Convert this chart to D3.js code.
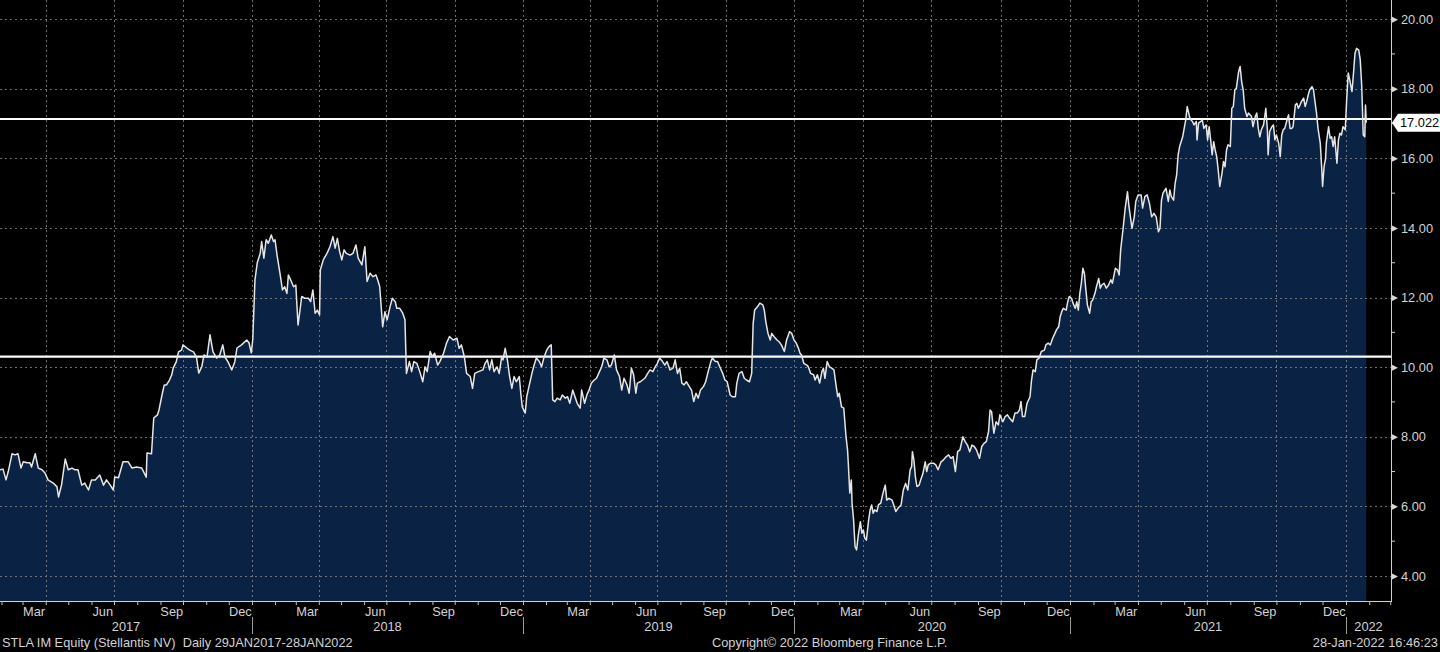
<!DOCTYPE html>
<html><head><meta charset="utf-8">
<script src="https://cdn.jsdelivr.net/npm/d3@7"></script>
<style>
html,body{margin:0;padding:0;background:#000;}
svg{display:block;}
text{font-family:"Liberation Sans",Arial,sans-serif;}
</style></head><body>
<svg id="chart" width="1440" height="652"></svg>
<script>
// ---- DATA ----
const px2017 = [["2017-01-30",7.05],["2017-02-03",7.07],["2017-02-07",6.76],["2017-02-10",7.00],["2017-02-15",7.51],["2017-02-19",7.48],["2017-02-23",7.51],["2017-02-27",7.10],["2017-03-02",7.28],["2017-03-07",7.25],["2017-03-11",7.25],["2017-03-13",7.13],["2017-03-18",7.51],["2017-03-22",7.10],["2017-03-27",7.05],["2017-03-31",6.96],["2017-04-04",6.76],["2017-04-11",6.67],["2017-04-16",6.56],["2017-04-18",6.27],["2017-04-22",6.61],["2017-04-27",7.36],["2017-05-01",7.05],["2017-05-06",7.10],["2017-05-10",7.05],["2017-05-14",7.05],["2017-05-19",6.61],["2017-05-23",6.67],["2017-05-28",6.47],["2017-06-01",6.76],["2017-06-06",6.76],["2017-06-12",6.90],["2017-06-17",6.61],["2017-06-21",6.76],["2017-06-26",6.61],["2017-06-30",6.47],["2017-07-02",6.84],["2017-07-07",6.82],["2017-07-13",7.28],["2017-07-20",7.28],["2017-07-25",7.10],["2017-07-31",7.13],["2017-08-07",7.10],["2017-08-13",6.84],["2017-08-14",7.53],["2017-08-20",7.51],["2017-08-23",8.54],["2017-08-28",8.63],["2017-08-30",8.77],["2017-09-03",9.20],["2017-09-06",9.49],["2017-09-09",9.49],["2017-09-13",9.63],["2017-09-16",9.78],["2017-09-18",9.98],["2017-09-22",10.15],["2017-09-25",10.44],["2017-09-29",10.49],["2017-10-01",10.64],["2017-10-06",10.55],["2017-10-10",10.49],["2017-10-15",10.44],["2017-10-19",10.29],["2017-10-22",9.83],["2017-10-26",10.01],["2017-10-29",10.35],["2017-11-02",10.29],["2017-11-06",10.93],["2017-11-10",10.44],["2017-11-15",10.26],["2017-11-19",10.35],["2017-11-23",10.64],["2017-11-26",10.29],["2017-11-30",10.15],["2017-12-05",9.92],["2017-12-09",10.15],["2017-12-12",10.55],["2017-12-18",10.64],["2017-12-25",10.78],["2017-12-28",10.70],["2017-12-31",10.41]];

const px2018 = [["2018-01-02",10.78],["2018-01-05",12.51],["2018-01-08",12.99],["2018-01-12",13.27],["2018-01-14",13.61],["2018-01-17",13.13],["2018-01-20",13.66],["2018-01-23",13.56],["2018-01-27",13.80],["2018-01-30",13.61],["2018-02-01",13.66],["2018-02-04",13.18],["2018-02-08",12.65],["2018-02-11",12.22],["2018-02-14",12.31],["2018-02-17",12.12],["2018-02-19",12.65],["2018-02-22",12.51],["2018-02-26",12.31],["2018-03-01",12.36],["2018-03-04",11.21],["2018-03-09",12.03],["2018-03-13",11.98],["2018-03-18",11.98],["2018-03-21",11.88],["2018-03-24",12.22],["2018-03-27",11.55],["2018-03-30",11.64],["2018-04-02",11.50],["2018-04-03",12.79],["2018-04-07",13.08],["2018-04-12",13.27],["2018-04-16",13.46],["2018-04-20",13.75],["2018-04-23",13.42],["2018-04-26",13.70],["2018-04-29",13.32],["2018-05-02",13.08],["2018-05-05",13.37],["2018-05-08",13.27],["2018-05-13",13.22],["2018-05-17",13.27],["2018-05-21",13.51],["2018-05-24",13.13],["2018-05-29",12.94],["2018-06-02",13.46],["2018-06-05",12.46],["2018-06-09",12.70],["2018-06-13",12.60],["2018-06-17",12.65],["2018-06-20",12.46],["2018-06-22",12.31],["2018-06-26",11.16],["2018-06-29",11.59],["2018-07-02",11.36],["2018-07-06",11.74],["2018-07-09",11.98],["2018-07-13",11.88],["2018-07-15",11.69],["2018-07-19",11.69],["2018-07-23",11.55],["2018-07-26",11.36],["2018-07-28",9.82],["2018-08-01",10.16],["2018-08-04",9.87],["2018-08-07",10.16],["2018-08-11",10.11],["2018-08-15",9.87],["2018-08-19",9.58],["2018-08-22",10.01],["2018-08-25",9.87],["2018-08-29",10.45],["2018-09-01",10.30],["2018-09-04",10.40],["2018-09-08",10.06],["2018-09-11",10.16],["2018-09-16",10.40],["2018-09-20",10.69],["2018-09-24",10.88],["2018-09-29",10.78],["2018-10-04",10.83],["2018-10-07",10.54],["2018-10-10",10.64],["2018-10-14",10.30],["2018-10-17",9.82],["2018-10-22",9.73],["2018-10-25",9.39],["2018-10-28",9.82],["2018-11-02",9.87],["2018-11-08",9.92],["2018-11-11",10.11],["2018-11-14",10.21],["2018-11-17",9.92],["2018-11-20",10.21],["2018-11-23",9.87],["2018-11-27",10.01],["2018-11-30",9.82],["2018-12-03",10.26],["2018-12-05",10.21],["2018-12-08",10.54],["2018-12-11",10.21],["2018-12-14",9.73],["2018-12-17",9.39],["2018-12-20",9.73],["2018-12-23",9.58],["2018-12-27",9.73],["2018-12-29",9.25],["2018-12-31",8.86]];

const px2019 = [["2019-01-04",8.68],["2019-01-06",9.15],["2019-01-09",9.44],["2019-01-13",9.82],["2019-01-16",10.06],["2019-01-19",10.26],["2019-01-23",10.16],["2019-01-26",10.01],["2019-01-29",10.26],["2019-02-02",10.49],["2019-02-05",10.59],["2019-02-08",10.64],["2019-02-10",9.06],["2019-02-13",9.01],["2019-02-16",9.11],["2019-02-20",9.06],["2019-02-23",9.20],["2019-02-27",9.11],["2019-03-02",9.15],["2019-03-05",8.96],["2019-03-09",9.34],["2019-03-12",9.15],["2019-03-15",8.96],["2019-03-19",8.82],["2019-03-21",9.34],["2019-03-25",8.96],["2019-03-28",9.20],["2019-03-31",9.34],["2019-04-03",9.54],["2019-04-07",9.63],["2019-04-10",9.68],["2019-04-14",9.87],["2019-04-17",10.01],["2019-04-20",10.26],["2019-04-24",10.21],["2019-04-27",10.01],["2019-04-30",10.06],["2019-05-04",10.35],["2019-05-07",9.92],["2019-05-11",9.73],["2019-05-14",9.34],["2019-05-17",9.68],["2019-05-21",9.49],["2019-05-24",9.25],["2019-05-27",9.97],["2019-05-30",9.78],["2019-06-02",9.25],["2019-06-04",9.54],["2019-06-08",9.58],["2019-06-11",9.63],["2019-06-14",9.68],["2019-06-18",9.82],["2019-06-21",9.92],["2019-06-25",9.87],["2019-06-28",10.01],["2019-07-01",10.11],["2019-07-04",10.26],["2019-07-08",10.16],["2019-07-11",10.06],["2019-07-14",10.16],["2019-07-18",9.92],["2019-07-22",9.97],["2019-07-25",10.21],["2019-07-28",9.82],["2019-07-31",9.97],["2019-08-03",9.54],["2019-08-06",9.49],["2019-08-09",9.58],["2019-08-13",9.44],["2019-08-16",9.34],["2019-08-19",9.01],["2019-08-22",9.25],["2019-08-25",9.11],["2019-08-28",9.34],["2019-09-01",9.44],["2019-09-04",9.58],["2019-09-08",9.92],["2019-09-11",10.16],["2019-09-13",10.26],["2019-09-17",10.16],["2019-09-20",10.16],["2019-09-23",10.01],["2019-09-27",9.82],["2019-09-30",9.63],["2019-10-03",9.58],["2019-10-07",9.20],["2019-10-10",9.15],["2019-10-14",9.15],["2019-10-16",9.54],["2019-10-19",9.82],["2019-10-23",9.87],["2019-10-26",9.68],["2019-10-29",9.63],["2019-11-02",9.58],["2019-11-05",9.82],["2019-11-07",11.26],["2019-11-09",11.64],["2019-11-13",11.74],["2019-11-16",11.84],["2019-11-20",11.79],["2019-11-22",11.64],["2019-11-24",11.31],["2019-11-27",10.97],["2019-11-30",10.78],["2019-12-02",10.97],["2019-12-05",10.88],["2019-12-09",10.78],["2019-12-12",10.73],["2019-12-15",10.64],["2019-12-19",10.45],["2019-12-22",10.78],["2019-12-26",11.02],["2019-12-29",10.97]];

const px2020 = [["2020-01-01",10.78],["2020-01-04",10.69],["2020-01-07",10.54],["2020-01-09",10.40],["2020-01-11",10.35],["2020-01-14",10.11],["2020-01-18",10.06],["2020-01-20",10.01],["2020-01-23",9.82],["2020-01-27",9.78],["2020-01-29",9.63],["2020-02-01",9.78],["2020-02-04",9.54],["2020-02-07",9.87],["2020-02-09",9.97],["2020-02-11",9.68],["2020-02-14",10.16],["2020-02-17",10.01],["2020-02-20",9.97],["2020-02-23",9.92],["2020-02-26",9.44],["2020-02-28",9.15],["2020-03-01",9.25],["2020-03-04",8.86],["2020-03-07",8.82],["2020-03-10",8.00],["2020-03-12",7.62],["2020-03-13",7.24],["2020-03-15",6.38],["2020-03-17",6.76],["2020-03-18",6.09],["2020-03-20",5.61],["2020-03-22",4.84],["2020-03-24",4.75],["2020-03-26",5.13],["2020-03-29",5.56],["2020-03-31",5.23],["2020-04-02",5.32],["2020-04-04",5.08],["2020-04-06",5.03],["2020-04-09",5.61],["2020-04-11",5.90],["2020-04-13",6.04],["2020-04-15",5.80],["2020-04-17",5.90],["2020-04-20",5.85],["2020-04-22",6.04],["2020-04-25",6.09],["2020-04-28",6.38],["2020-05-01",6.61],["2020-05-03",6.18],["2020-05-06",6.23],["2020-05-10",6.18],["2020-05-13",5.99],["2020-05-15",5.85],["2020-05-18",5.95],["2020-05-22",6.04],["2020-05-25",6.47],["2020-05-28",6.66],["2020-05-31",6.47],["2020-06-03",7.05],["2020-06-05",7.14],["2020-06-06",7.57],["2020-06-08",7.33],["2020-06-10",6.85],["2020-06-12",6.57],["2020-06-15",6.61],["2020-06-17",6.76],["2020-06-20",6.95],["2020-06-23",7.28],["2020-06-25",7.00],["2020-06-27",7.19],["2020-06-30",7.24],["2020-07-04",7.24],["2020-07-07",7.19],["2020-07-10",7.05],["2020-07-14",7.28],["2020-07-17",7.33],["2020-07-21",7.43],["2020-07-24",7.48],["2020-07-27",7.38],["2020-07-30",7.43],["2020-08-02",7.00],["2020-08-05",7.57],["2020-08-08",7.62],["2020-08-12",8.00],["2020-08-15",7.86],["2020-08-18",7.76],["2020-08-21",7.57],["2020-08-24",7.76],["2020-08-27",7.72],["2020-08-30",7.62],["2020-09-03",7.38],["2020-09-06",7.72],["2020-09-09",7.81],["2020-09-12",7.86],["2020-09-15",8.15],["2020-09-17",8.77],["2020-09-19",8.72],["2020-09-22",8.10],["2020-09-25",8.43],["2020-09-28",8.34],["2020-09-30",8.63],["2020-10-04",8.43],["2020-10-07",8.58],["2020-10-10",8.63],["2020-10-13",8.53],["2020-10-17",8.43],["2020-10-20",8.68],["2020-10-23",8.68],["2020-10-26",8.77],["2020-10-28",9.01],["2020-10-30",8.58],["2020-11-02",8.58],["2020-11-05",8.96],["2020-11-09",9.15],["2020-11-11",9.63],["2020-11-13",9.92],["2020-11-16",9.87],["2020-11-18",10.21],["2020-11-21",10.26],["2020-11-24",10.45],["2020-11-28",10.49],["2020-11-30",10.64],["2020-12-03",10.69],["2020-12-06",10.64],["2020-12-09",10.83],["2020-12-12",10.97],["2020-12-14",11.07],["2020-12-17",11.16],["2020-12-19",11.45],["2020-12-21",11.59],["2020-12-23",11.69],["2020-12-27",11.64],["2020-12-29",11.88],["2020-12-31",12.03]];

const px2021 = [["2021-01-03",11.98],["2021-01-05",11.84],["2021-01-08",11.69],["2021-01-10",11.88],["2021-01-12",11.64],["2021-01-14",12.12],["2021-01-16",12.41],["2021-01-18",12.84],["2021-01-20",12.70],["2021-01-22",12.22],["2021-01-24",11.79],["2021-01-27",11.55],["2021-01-29",11.88],["2021-01-31",11.93],["2021-02-03",12.12],["2021-02-05",12.31],["2021-02-08",12.55],["2021-02-10",12.27],["2021-02-12",12.36],["2021-02-15",12.41],["2021-02-18",12.27],["2021-02-21",12.36],["2021-02-24",12.51],["2021-02-26",12.41],["2021-03-02",12.84],["2021-03-05",12.79],["2021-03-07",12.65],["2021-03-09",13.37],["2021-03-12",13.94],["2021-03-15",14.57],["2021-03-18",15.04],["2021-03-20",14.61],["2021-03-24",13.99],["2021-03-27",14.32],["2021-03-29",14.76],["2021-04-01",14.95],["2021-04-05",14.95],["2021-04-07",14.57],["2021-04-10",14.90],["2021-04-13",14.95],["2021-04-16",14.71],["2021-04-19",14.32],["2021-04-22",14.42],["2021-04-25",14.32],["2021-04-28",13.89],["2021-04-30",13.99],["2021-05-02",14.80],["2021-05-04",15.00],["2021-05-08",15.14],["2021-05-11",14.76],["2021-05-13",15.09],["2021-05-15",14.90],["2021-05-18",14.80],["2021-05-20",15.28],["2021-05-22",15.52],["2021-05-24",16.10],["2021-05-26",16.34],["2021-05-30",16.62],["2021-06-01",16.86],["2021-06-03",17.10],["2021-06-05",17.49],["2021-06-08",17.20],["2021-06-10",17.10],["2021-06-12",17.06],["2021-06-14",16.96],["2021-06-17",17.06],["2021-06-18",16.53],["2021-06-20",17.01],["2021-06-23",17.06],["2021-06-25",17.10],["2021-06-27",16.86],["2021-06-30",16.96],["2021-07-02",16.53],["2021-07-04",16.91],["2021-07-06",16.53],["2021-07-08",16.10],["2021-07-10",16.48],["2021-07-12",16.24],["2021-07-14",16.05],["2021-07-16",15.67],["2021-07-18",15.19],["2021-07-21",15.57],["2021-07-23",15.91],["2021-07-25",15.76],["2021-07-27",16.24],["2021-07-29",16.39],["2021-08-01",16.34],["2021-08-03",17.44],["2021-08-05",17.49],["2021-08-07",17.97],["2021-08-09",18.01],["2021-08-12",18.49],["2021-08-14",18.64],["2021-08-16",18.20],["2021-08-18",17.97],["2021-08-20",17.44],["2021-08-23",17.20],["2021-08-25",17.30],["2021-08-27",17.25],["2021-08-29",17.20],["2021-08-31",16.91],["2021-09-03",17.20],["2021-09-05",17.30],["2021-09-07",16.86],["2021-09-09",16.62],["2021-09-11",16.82],["2021-09-14",16.96],["2021-09-17",17.44],["2021-09-19",16.82],["2021-09-20",16.10],["2021-09-22",16.77],["2021-09-25",16.91],["2021-09-27",16.96],["2021-09-29",16.53],["2021-10-01",16.67],["2021-10-04",16.43],["2021-10-06",16.05],["2021-10-08",16.67],["2021-10-10",16.82],["2021-10-12",16.86],["2021-10-15",17.10],["2021-10-17",17.25],["2021-10-19",16.86],["2021-10-21",16.86],["2021-10-23",16.91],["2021-10-26",17.53],["2021-10-28",17.58],["2021-10-30",17.44],["2021-11-01",17.53],["2021-11-03",17.63],["2021-11-06",17.73],["2021-11-08",17.49],["2021-11-10",17.63],["2021-11-12",17.82],["2021-11-14",17.97],["2021-11-17",18.06],["2021-11-19",17.97],["2021-11-21",17.63],["2021-11-23",17.30],["2021-11-25",16.86],["2021-11-28",16.43],["2021-11-30",15.67],["2021-12-01",15.19],["2021-12-03",15.76],["2021-12-05",16.00],["2021-12-06",16.43],["2021-12-09",16.91],["2021-12-11",16.58],["2021-12-13",16.62],["2021-12-15",16.34],["2021-12-17",16.62],["2021-12-20",15.86],["2021-12-22",16.53],["2021-12-24",16.72],["2021-12-26",16.67],["2021-12-28",16.91],["2021-12-31",16.82]];

const px2022 = [["2022-01-02",17.73],["2022-01-04",18.45],["2022-01-06",18.25],["2022-01-09",17.92],["2022-01-11",18.45],["2022-01-13",19.02],["2022-01-15",19.16],["2022-01-18",19.11],["2022-01-20",18.83],["2022-01-22",18.06],["2022-01-24",16.67],["2022-01-26",16.62],["2022-01-27",17.53],["2022-01-28",17.022]];

const lastPrice = 17.022;
const refLines = [17.13, 10.30];
const yTicks = [4, 6, 8, 10, 12, 14, 16, 18, 20];
const yMinorTicks = [5, 7, 9, 11, 13, 15, 17, 19];
const yDomain = [3.28, 20.55];
const xBreaks = ["2017-01-30","2018-01-01","2019-01-01","2020-01-01","2021-01-01","2022-01-01","2022-03-02"];
const monthNames = ["Jan","Feb","Mar","Apr","May","Jun","Jul","Aug","Sep","Oct","Nov","Dec"];
const labeledMonths = [2, 5, 8, 11];
const years = [2017, 2018, 2019, 2020, 2021, 2022];
const footerLeft = "STLA IM Equity (Stellantis NV)  Daily 29JAN2017-28JAN2022";
const footerMid = "Copyright\u00A9 2022 Bloomberg Finance L.P.";
const footerRight = "28-Jan-2022 16:46:23";

// ---- CHART ----
const parse = d3.timeParse("%Y-%m-%d");
const series = [].concat(px2017, px2018, px2019, px2020, px2021, px2022)
  .map(([d, v]) => ({date: parse(d), value: v}));

const plotRight = 1391, plotBottom = 601;
const svg = d3.select("#chart");
const txtCol = "#d2d2d2";
const fs = 12.8;

const x = d3.scaleTime()
  .domain(xBreaks.map(parse))
  .range([0, 252, 523, 794, 1070, 1346, plotRight]);
const y = d3.scaleLinear().domain(yDomain).range([plotBottom, 0]);

svg.append("rect").attr("width", 1440).attr("height", 652).attr("fill", "#000");

// area
svg.append("path").datum(series)
  .attr("fill", "#0a2244")
  .attr("d", d3.area().x(d => x(d.date)).y0(y(yDomain[0])).y1(d => y(d.value)));

// grid
const dStart = parse(xBreaks[0]), dEnd = parse(xBreaks[xBreaks.length - 1]);
const quarters = d3.timeMonth.every(3).range(dStart, dEnd);
const grid = svg.append("g").attr("stroke", "#8a8a8a").attr("stroke-width", 1)
  .attr("stroke-dasharray", "2,3").attr("opacity", 0.8);
grid.selectAll("line.h").data(yTicks).join("line").attr("class", "h")
  .attr("x1", 0).attr("x2", plotRight)
  .attr("y1", d => Math.round(y(d)) + 0.5).attr("y2", d => Math.round(y(d)) + 0.5);
grid.selectAll("line.v").data(quarters).join("line").attr("class", "v")
  .attr("x1", d => Math.round(x(d)) + 0.5).attr("x2", d => Math.round(x(d)) + 0.5)
  .attr("y1", 0).attr("y2", plotBottom);

// reference lines
svg.selectAll("line.ref").data(refLines).join("line").attr("class", "ref")
  .attr("x1", 0).attr("x2", plotRight)
  .attr("y1", d => y(d)).attr("y2", d => y(d))
  .attr("stroke", "#ffffff").attr("stroke-width", 2.2);

// price line
svg.append("path").datum(series)
  .attr("fill", "none").attr("stroke", "#e6e6e6").attr("stroke-width", 1.5)
  .attr("stroke-linejoin", "round")
  .attr("d", d3.line().x(d => x(d.date)).y(d => y(d.value)));

// right axis
const yAxis = d3.axisRight(y).tickValues(yTicks).tickFormat(d3.format(".2f"))
  .tickSize(0).tickPadding(10);
const gy = svg.append("g").attr("transform", `translate(${plotRight},0)`).call(yAxis);
gy.select(".domain").attr("stroke", "#d0d0d0").attr("d", `M0.5,0V${plotBottom}`);
gy.selectAll("text").attr("fill", txtCol).attr("font-size", fs)
  .attr("font-family", "Liberation Sans, Arial, sans-serif");
gy.selectAll(".tick").append("path")
  .attr("d", "M1,-3L7,0L1,3Z").attr("fill", "#d8d8d8");
svg.selectAll("line.ymin").data(yMinorTicks).join("line").attr("class", "ymin")
  .attr("x1", plotRight).attr("x2", plotRight + 4)
  .attr("y1", d => y(d)).attr("y2", d => y(d))
  .attr("stroke", "#d0d0d0");

// last price tag
const ly = y(lastPrice);
svg.append("path")
  .attr("d", `M${plotRight + 1},${ly}L${plotRight + 7},${ly - 9}H1440V${ly + 9}H${plotRight + 7}Z`)
  .attr("fill", "#ffffff");
svg.append("text").attr("x", plotRight + 9).attr("y", ly).attr("dy", "0.36em")
  .attr("fill", "#000").attr("font-size", fs).text(lastPrice.toFixed(3));

// bottom axis
const months = d3.timeMonth.range(dStart, dEnd);
const xAxis = d3.axisBottom(x).tickValues(months).tickFormat("").tickSize(4);
const gx = svg.append("g").attr("transform", `translate(0,${plotBottom})`).call(xAxis);
gx.select(".domain").attr("stroke", "#d0d0d0").attr("d", `M0,0.5H${plotRight + 1}`);
gx.selectAll(".tick line").attr("stroke", "#c0c0c0");

const mLabels = months.filter(m => labeledMonths.includes(m.getMonth()))
  .map(m => ({m, cx: (x(m) + x(d3.timeMonth.offset(m, 1))) / 2}))
  .filter(o => o.cx > 8 && o.cx < plotRight - 8);
svg.selectAll("text.mon").data(mLabels).join("text").attr("class", "mon")
  .attr("x", d => d.cx).attr("y", 616).attr("text-anchor", "middle")
  .attr("fill", txtCol).attr("font-size", fs)
  .text(d => monthNames[d.m.getMonth()]);

// year separators & labels
const yearInfo = years.map(yr => {
  const s = new Date(yr, 0, 1), e = new Date(yr + 1, 0, 1);
  const xs = Math.max(x(s), 0), xe = Math.min(x(e), plotRight);
  return {yr, xs, xe, sep: s > dStart ? x(s) : null};
});
svg.selectAll("line.ysep").data(yearInfo.filter(d => d.sep !== null)).join("line")
  .attr("class", "ysep")
  .attr("x1", d => Math.round(d.sep) + 0.5).attr("x2", d => Math.round(d.sep) + 0.5)
  .attr("y1", 617).attr("y2", 634).attr("stroke", "#9a9a9a");
svg.selectAll("text.yr").data(yearInfo).join("text").attr("class", "yr")
  .attr("x", d => (d.xs + d.xe) / 2).attr("y", 631).attr("text-anchor", "middle")
  .attr("fill", txtCol).attr("font-size", fs).text(d => d.yr);

// footer
const foot = svg.append("g").attr("fill", txtCol).attr("font-size", fs);
foot.append("text").attr("x", 2).attr("y", 647).attr("xml:space", "preserve")
  .style("white-space", "pre").text(footerLeft);
foot.append("text").attr("x", 712).attr("y", 647).text(footerMid);
foot.append("text").attr("x", 1438).attr("y", 647).attr("text-anchor", "end").text(footerRight);
</script>
</body></html>
